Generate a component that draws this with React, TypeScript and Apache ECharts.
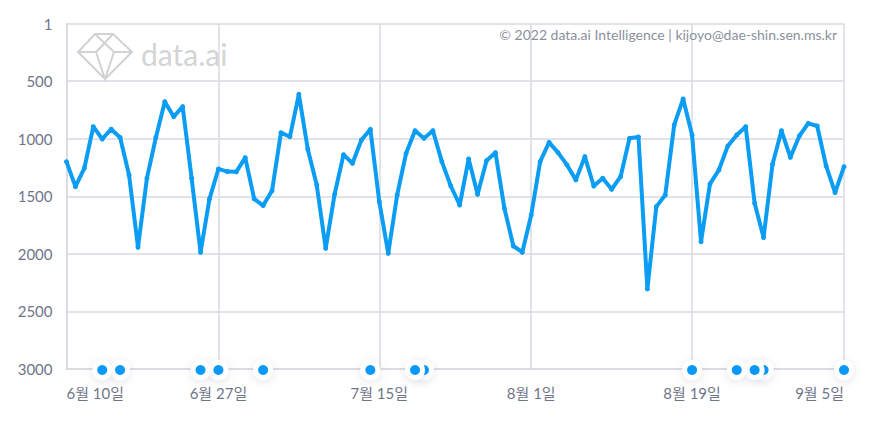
import React, { useEffect, useRef } from "react";
import * as echarts from "echarts";

const june = [10,11,12,13,14,15,16,17,18,19,20,21,22,23,24,25,26,27,28,29,30].map((d) => `6월 ${d}일`);
const july = [1,2,3,4,5,6,7,8,9,10,11,12,13,14,15,16,17,18,19,20,21,22,23,24,25,26,27,28,29,30,31].map((d) => `7월 ${d}일`);
const august = [1,2,3,4,5,6,7,8,9,10,11,12,13,14,15,16,17,18,19,20,21,22,23,24,25,26,27,28,29,30,31].map((d) => `8월 ${d}일`);
const september = [1,2,3,4,5].map((d) => `9월 ${d}일`);
const categories = [...june, ...july, ...august, ...september];

const ranks = [
  1200, 1417, 1255, 896, 1003, 918, 990, 1315, 1943, 1343,
  990, 679, 809, 722, 1344, 1986, 1523, 1263, 1286, 1288,
  1165, 1523, 1581, 1451, 948, 983, 615, 1092, 1402, 1952,
  1483, 1139, 1214, 1011, 919, 1547, 1995, 1489, 1127, 931,
  997, 931, 1199, 1411, 1576, 1176, 1483, 1191, 1121, 1605,
  1932, 1986, 1663, 1199, 1032, 1121, 1228, 1358, 1156, 1411,
  1344, 1439, 1330, 997, 985, 2305, 1590, 1489, 881, 655,
  968, 1894, 1393, 1272, 1063, 968, 896, 1561, 1859, 1222,
  931, 1162, 977, 867, 890, 1237, 1469, 1243,
];

// Event markers sit on the 3000 line; the earlier one is painted on top of a later neighbour.
const eventDays = [
  "9월 5일", "8월 27일", "8월 26일", "8월 24일", "8월 19일",
  "7월 20일", "7월 19일", "7월 14일", "7월 2일", "6월 27일", "6월 25일", "6월 16일", "6월 14일",
];
const eventRank = 3000;

const labelledDays = ["6월 10일", "6월 27일", "7월 15일", "8월 1일", "8월 19일", "9월 5일"];
const yTicks: Record<number, string> = { 0: "1", 500: "500", 1000: "1000", 1500: "1500", 2000: "2000", 2500: "2500", 3000: "3000" };

const copyright = "© 2022 data.ai Intelligence | kijoyo@dae-shin.sen.ms.kr";
const brand = "data.ai";

const FONT = 'Lato, "Noto Sans CJK KR", sans-serif';
const GRID = "#d8dae0";
const LABEL = "#6f7589";
const LINE = "#0b9cf3";
const DOT = "#0a99f8";

echarts.graphic.registerShape(
  "dataaiLogo",
  echarts.graphic.extendPath(
    "M0 18 L17 0 L35 0 L54 18 L27 45 Z M0 18 L18 18 L27 45 L36 18 L54 18 M18 18 L35 0 M17 0 L36 18 M18 18 L26 10",
    {}
  )
);

export default function App() {
  const ref = useRef<HTMLDivElement>(null);
  useEffect(() => {
    document.body.style.margin = "0";
    const chart = echarts.init(ref.current!, undefined, { renderer: "svg" });
    const isLabelled = (i: number) => labelledDays.includes(categories[i]);
    chart.setOption({
      animation: false,
      backgroundColor: "#ffffff",
      textStyle: { fontFamily: FONT },
      grid: { left: 66.5, right: 33, top: 23.5, bottom: 59 },
      xAxis: {
        type: "category",
        data: categories,
        boundaryGap: false,
        axisLine: { onZero: false, lineStyle: { color: GRID, width: 1.5 } },
        axisTick: { show: false },
        axisLabel: {
          interval: (i: number) => isLabelled(i),
          color: LABEL,
          fontFamily: FONT,
          fontSize: 15,
          margin: 16,
          alignMinLabel: "left",
          alignMaxLabel: "right",
          hideOverlap: false,
        },
        splitLine: {
          show: true,
          interval: (i: number) => isLabelled(i),
          lineStyle: { color: GRID, width: 1.5 },
        },
      },
      yAxis: {
        type: "value",
        inverse: true,
        min: 0,
        max: 3000,
        interval: 500,
        axisLine: { show: true, lineStyle: { color: GRID, width: 1.5 } },
        axisTick: { show: false },
        axisLabel: {
          color: LABEL,
          fontFamily: FONT,
          fontSize: 15,
          margin: 14,
          formatter: (v: number) => yTicks[v] ?? String(v),
        },
        splitLine: { show: true, lineStyle: { color: GRID, width: 1.5 } },
      },
      series: [
        {
          type: "line",
          data: ranks,
          z: 3,
          smooth: false,
          symbol: "circle",
          symbolSize: 5,
          showSymbol: true,
          itemStyle: { color: LINE },
          lineStyle: { color: LINE, width: 4, join: "round" },
        },
        {
          type: "custom",
          z: 4,
          clip: false,
          coordinateSystem: "cartesian2d",
          data: eventDays.map((d) => [d, eventRank]),
          renderItem: (_: any, api: any) => {
            const p = api.coord([api.value(0), api.value(1)]);
            return {
              type: "group",
              children: [
                {
                  type: "circle",
                  shape: { cx: p[0], cy: p[1] + 1, r: 10 },
                  style: { fill: "#ffffff", shadowBlur: 10, shadowColor: "rgba(40,50,80,0.10)", shadowOffsetY: 2 },
                },
                {
                  type: "circle",
                  shape: { cx: p[0], cy: p[1] + 1, r: 5 },
                  style: { fill: DOT },
                },
              ],
            };
          },
        },
      ],
      graphic: [
        {
          type: "dataaiLogo",
          x: 78,
          y: 34,
          z: 1,
          silent: true,
          style: { fill: "none", stroke: "#d2d2d2", lineWidth: 2 },
        },
        {
          type: "text",
          x: 141,
          y: 39,
          z: 1,
          silent: true,
          style: { text: brand, fontFamily: FONT, fontSize: 30, fill: "#d4d4d4" },
        },
        {
          type: "text",
          x: 837,
          y: 27,
          z: 1,
          silent: true,
          style: { text: copyright, fontFamily: FONT, fontSize: 14, fill: "#8b909e", align: "right" },
        },
      ],
    });
    return () => chart.dispose();
  }, []);
  return <div ref={ref} style={{ width: 877, height: 428 }} />;
}
